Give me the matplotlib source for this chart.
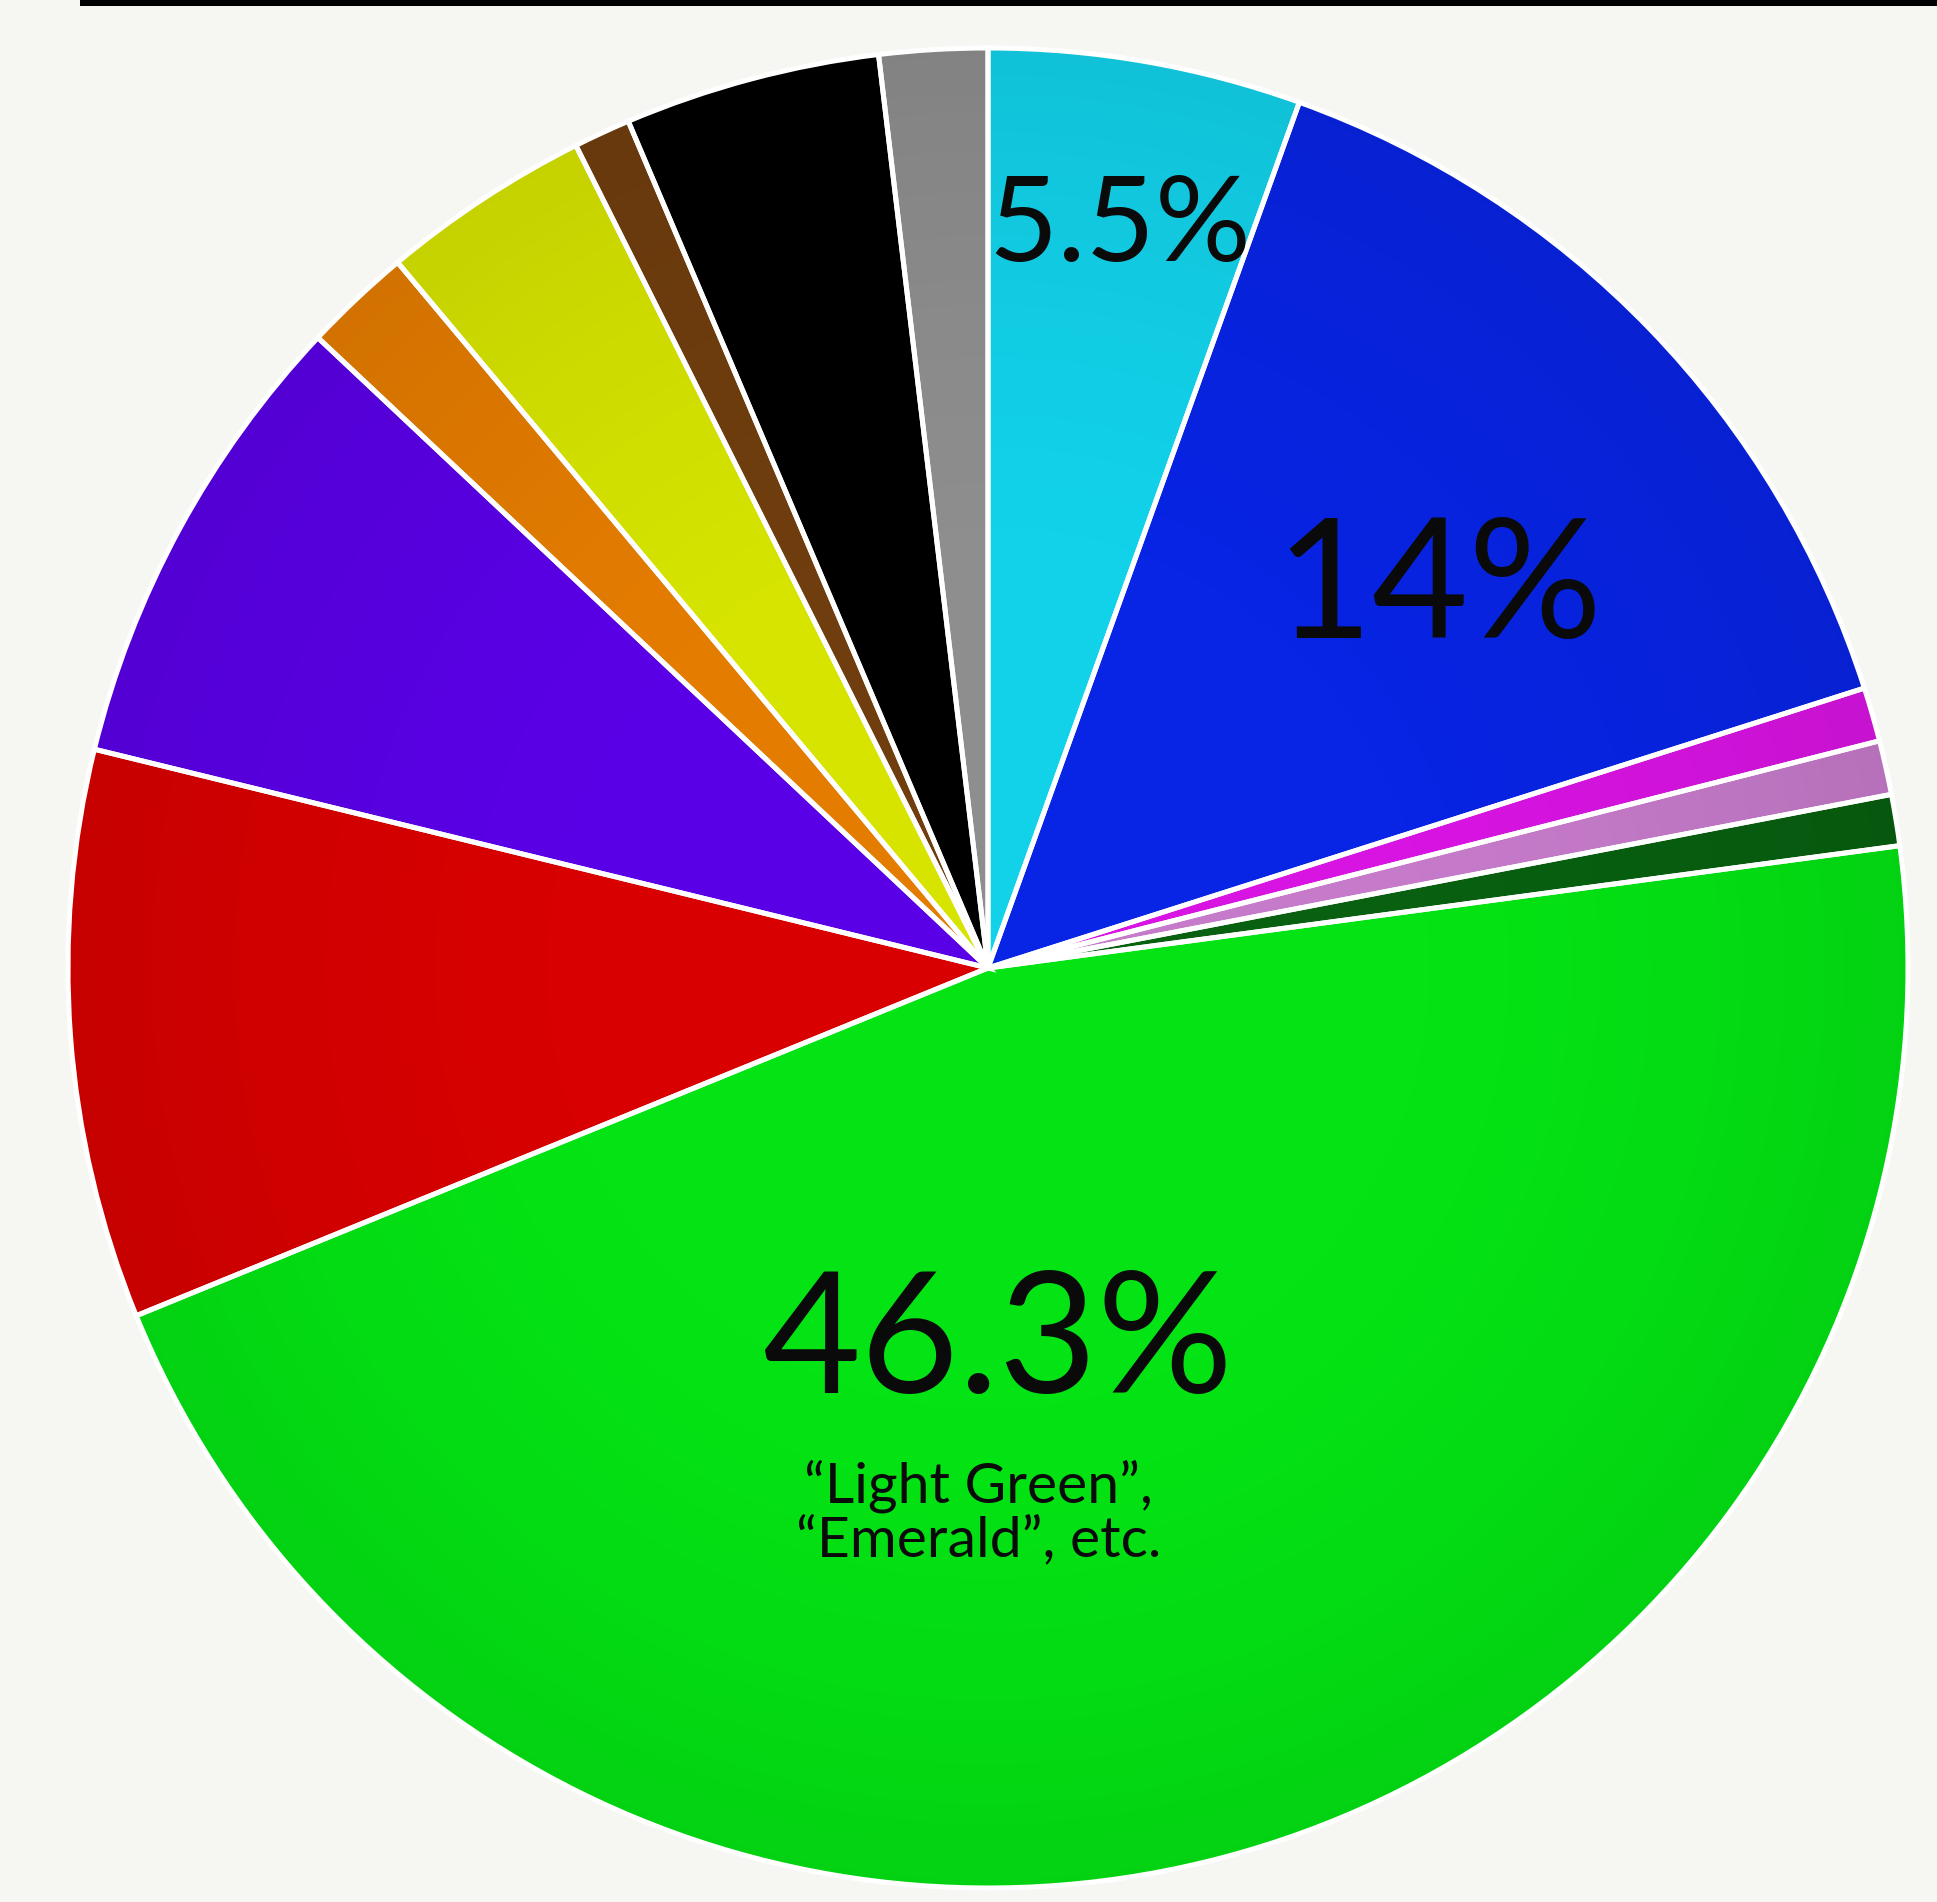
import matplotlib
matplotlib.use("Agg")
import matplotlib.pyplot as plt
import numpy as np
from matplotlib.patches import Rectangle, Circle

# slice shares (percent), clockwise from 12 o'clock
segments = ["Cyan", "Blue", "Magenta", "Pink", "Dark Green", "Light Green",
            "Red", "Violet", "Orange", "Yellow", "Brown", "Black", "Gray"]
shares = [5.5, 14.6, 0.95, 0.95, 0.9, 46.0, 10.0, 8.2, 1.9, 3.7, 1.0, 4.5, 1.9]
colors = ["#12d2ea", "#0824e4", "#d814e2", "#c67bca", "#086010", "#04e414",
          "#d80000", "#5a00e6", "#e47c00", "#d6e400", "#703e0e", "#000000", "#8e8e8e"]

# labels shown on the chart
big_labels = {"Cyan": "5.5%", "Blue": "14%", "Light Green": "46.3%"}
label_pos = {"Cyan": (0.143, 0.805), "Blue": (0.49, 0.41), "Light Green": (0.01, -0.41)}
label_size = {"Cyan": 86, "Blue": 120, "Light Green": 122}
green_note = "\u201cLight Green\u201d,\n\u201cEmerald\u201d, etc."

W, H = 1937, 1902
bg = "#f6f7f2"
fig = plt.figure(figsize=(W / 100, H / 100), dpi=100, facecolor=bg)

# pie occupies x 68..1908, y 48..1888 (pixels from top)
cx, cy, r = 988, 968, 920
ax = fig.add_axes([(cx - r) / W, (H - cy - r) / H, 2 * r / W, 2 * r / H])
ax.set_facecolor(bg)

# filled slices first
ax.pie(shares, colors=colors, startangle=90, counterclock=False, radius=1,
       wedgeprops=dict(linewidth=0))

# soft darkening toward the rim, like the original's shading
g = np.linspace(-1, 1, 600)
xx, yy = np.meshgrid(g, g)
rr = np.sqrt(xx ** 2 + yy ** 2)
shade = np.zeros((600, 600, 4))
shade[..., 3] = np.clip((rr - 0.4) / 0.6, 0, 1) ** 1.5 * 0.08
im = ax.imshow(shade, extent=(-1, 1, -1, 1), zorder=5, interpolation="bilinear")
im.set_clip_path(Circle((0, 0), 1, transform=ax.transData))

# white separators on top of the shading
wedges, _ = ax.pie(shares, startangle=90, counterclock=False, radius=1,
                   wedgeprops=dict(fill=False, edgecolor="white", linewidth=3.6))
for w in wedges:
    w.set_zorder(6)

ax.set_xlim(-1, 1)
ax.set_ylim(-1, 1)
ax.axis("off")

font = ["Lato", "DejaVu Sans"]
for name, txt in big_labels.items():
    x, y = label_pos[name]
    ax.text(x, y, txt, ha="center", va="center", fontsize=label_size[name],
            color="#0a0a0a", family=font, zorder=7)

ax.text(-0.01, -0.592, green_note, ha="center", va="center", fontsize=41,
        color="#0a0a0a", family=font, linespacing=1.05, zorder=7)

# black rule across the top
fig.add_artist(Rectangle((80 / W, 1 - 6 / H), 1, 6 / H, transform=fig.transFigure,
                         facecolor="black", edgecolor="none"))

fig.savefig("out.png", dpi=100, facecolor=bg)
